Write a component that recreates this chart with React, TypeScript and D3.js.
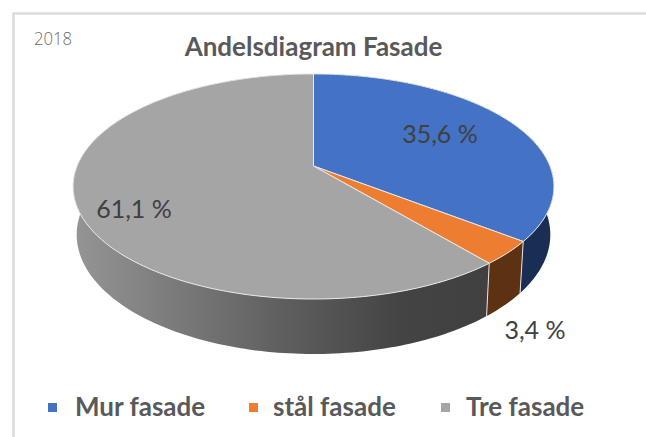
import React from 'react';
import * as d3 from 'd3';

const categories = ['Mur fasade', 'stål fasade', 'Tre fasade'];
const values = [35.6, 3.4, 61.1];
const valueLabels = ['35,6 %', '3,4 %', '61,1 %'];
const topColors = ['#4472c4', '#ed7d31', '#a5a5a5'];
const sideColors = ['#1a2d52', '#5d3212', 'url(#greySide)'];
const greyStops = [
  { offset: '0%', color: '#959595' },
  { offset: '50%', color: '#5f5f5f' },
  { offset: '78%', color: '#444444' },
  { offset: '100%', color: '#404040' },
];

const width = 646;
const height = 437;

// pie seen in perspective: k tilts the disc, apex is where the slices meet
const k = 0.182;
const apexX = 313.5;
const topApexY = 166;
const rx = 236.4;
const ry = 108.8;
const bottomApexY = 213;
const bottomScaleX = 0.985;
const bottomScaleY = 1.06;

const project = (a: number, bottom = false): [number, number] => {
  const u = Math.sin(a);
  const v = -Math.cos(a);
  const w = 1 - k * v;
  const x = (rx * u) / w;
  const y = (ry * v) / w;
  return bottom
    ? [apexX + x * bottomScaleX, bottomApexY + y * bottomScaleY]
    : [apexX + x, topApexY + y];
};

const sample = (a0: number, a1: number, bottom = false) => {
  const n = Math.max(2, Math.ceil((a1 - a0) / 0.02));
  return d3.range(n + 1).map(i => project(a0 + ((a1 - a0) * i) / n, bottom));
};

const line = d3.line();
const slices = d3.pie<number>().sort(null)(values);

const labelPos = [
  { x: 440, y: 143 },
  { x: 535, y: 339 },
  { x: 134, y: 218 },
];
const legendX = [48, 249, 441];
const legendTextX = [75, 273, 466];

export default function App() {
  return (
    <svg width={width} height={height} style={{ position: 'absolute', left: 0, top: 0 }}>
      <defs>
        <linearGradient id="greySide" gradientUnits="userSpaceOnUse" x1={73} x2={490} y1={0} y2={0}>
          {greyStops.map(s => (
            <stop key={s.offset} offset={s.offset} stopColor={s.color} />
          ))}
        </linearGradient>
      </defs>
      <rect width={width} height={height} fill="#fff" />
      <path d={`M13.5,${height}V13.5H${width}`} fill="none" stroke="#dcdcdc" strokeWidth={2.5} />

      <text x={34} y={45} fontFamily="'Open Sans'" fontSize={19} fontWeight={300} fill="#6b6b6b" textLength={38} lengthAdjust="spacingAndGlyphs">2018</text>
      <text x={313.5} y={56} textAnchor="middle" fontFamily="Lato" fontSize={26} fontWeight={700} fill="#595959">
        Andelsdiagram Fasade
      </text>

      {slices.map((s, i) => (
        <path
          key={'side' + i}
          d={line([...sample(s.startAngle, s.endAngle), ...sample(s.startAngle, s.endAngle, true).reverse()]) + 'Z'}
          fill={sideColors[i]}
        />
      ))}
      {slices.slice(1).map((s, i) => {
        const a = project(s.startAngle);
        const b = project(s.startAngle, true);
        return <line key={'edge' + i} x1={a[0]} y1={a[1]} x2={b[0]} y2={b[1]} stroke="#e4e4e4" strokeWidth={1} />;
      })}
      {slices.map((s, i) => (
        <path
          key={'top' + i}
          d={line([[apexX, topApexY], ...sample(s.startAngle, s.endAngle)]) + 'Z'}
          fill={topColors[i]}
          stroke="#e8e8e8"
          strokeWidth={1}
          strokeLinejoin="round"
        />
      ))}

      {valueLabels.map((t, i) => (
        <text key={t} x={labelPos[i].x} y={labelPos[i].y} textAnchor="middle" fontFamily="Lato" fontSize={25} fill="#404040">
          {t}
        </text>
      ))}

      {categories.map((c, i) => (
        <g key={c}>
          <rect x={legendX[i]} y={403} width={9} height={9} fill={topColors[i]} />
          <text x={legendTextX[i]} y={416} fontFamily="Lato" fontSize={26} fontWeight={700} fill="#595959">
            {c}
          </text>
        </g>
      ))}
    </svg>
  );
}
